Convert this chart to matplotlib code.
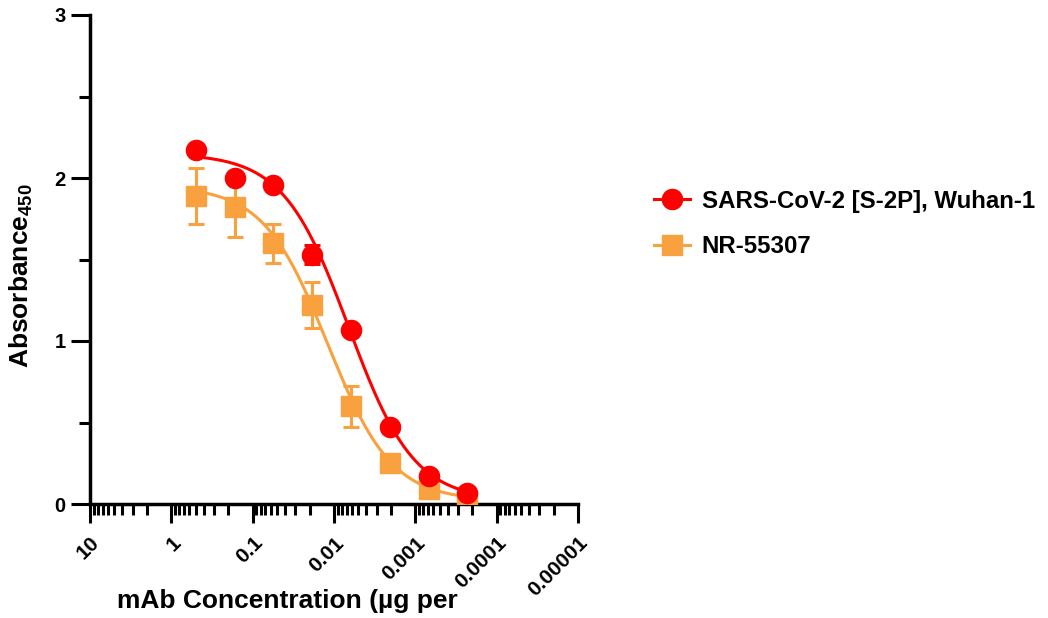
import numpy as np
import matplotlib
matplotlib.use("Agg")
import matplotlib.pyplot as plt
from matplotlib.ticker import LogLocator, NullFormatter, MultipleLocator

plt.rcParams['font.family'] = ['Liberation Sans', 'DejaVu Sans']
plt.rcParams['font.weight'] = 'bold'
plt.rcParams['mathtext.fontset'] = 'custom'
plt.rcParams['mathtext.rm'] = 'Liberation Sans:bold'
plt.rcParams['mathtext.bf'] = 'Liberation Sans:bold'

# mAb concentration (ug per mL), 3-fold dilutions
conc = [0.5, 0.1667, 0.05556, 0.01852, 0.006173, 0.002058, 0.000686, 0.0002286]

# SARS-CoV-2 [S-2P], Wuhan-1
wuhan = [2.17, 2.00, 1.96, 1.53, 1.07, 0.47, 0.17, 0.07]
wuhan_err = [0.02, 0.02, 0.02, 0.06, 0.02, 0.02, 0.01, 0.01]

# NR-55307
nr = [1.89, 1.82, 1.60, 1.22, 0.60, 0.25, 0.09, 0.02]
nr_err = [0.17, 0.18, 0.12, 0.14, 0.125, 0.03, 0.02, 0.01]

# 4PL fit parameters (top, bottom, EC50, hill)
wuhan_fit = [2.15, 0.02, 0.0066, 1.08]
nr_fit = [1.95, 0.02, 0.012, 1.1]

labels = ["SARS-CoV-2 [S-2P], Wuhan-1", "NR-55307"]
xtick_vals = [10, 1, 0.1, 0.01, 0.001, 0.0001, 0.00001]
xtick_labels = ["10", "1", "0.1", "0.01", "0.001", "0.0001", "0.00001"]

red = "#FF0000"
orange = "#F9A03F"


def four_pl(x, p):
    top, bottom, ec50, h = p
    return bottom + (top - bottom) / (1 + (ec50 / x) ** h)


fig = plt.figure(figsize=(10.48, 6.18), dpi=100)
ax = fig.add_axes([90 / 1048, 1 - 504 / 618, 488 / 1048, 489 / 618])

xs = np.logspace(np.log10(min(conc)), np.log10(max(conc)), 200)

# orange first, red on top
ax.plot(xs, four_pl(xs, nr_fit), color=orange, lw=2.2, zorder=2)
ax.errorbar(conc, nr, yerr=nr_err, fmt='s', color=orange, ms=15,
            elinewidth=2.2, capsize=6, capthick=2.2, zorder=3)
ax.plot(xs, four_pl(xs, wuhan_fit), color=red, lw=2.2, zorder=4)
ax.errorbar(conc, wuhan, yerr=wuhan_err, fmt='o', color=red, ms=14.5,
            elinewidth=2.2, capsize=6, capthick=2.2, zorder=5)

# legend handles
h1, = ax.plot([], [], color=red, marker='o', ms=14.5, lw=2.2)
h2, = ax.plot([], [], color=orange, marker='s', ms=15, lw=2.2)
fig.legend([h1, h2], labels, loc='upper left', bbox_to_anchor=(632 / 1048, 1 - 168 / 618),
           frameon=False, handlelength=1.5, handletextpad=0.5,
           labelspacing=0.95, prop={'weight': 'bold', 'size': 17.3})

ax.set_xscale('log')
ax.set_xlim(10, 0.00001)
ax.set_ylim(0, 3)

ax.set_xticks(xtick_vals)
ax.set_xticklabels(xtick_labels, rotation=45, ha='right', va='top',
                   rotation_mode='anchor', fontsize=15, fontweight='bold')
ax.xaxis.set_minor_locator(LogLocator(base=10, subs=np.arange(2, 10), numticks=20))
ax.xaxis.set_minor_formatter(NullFormatter())

ax.yaxis.set_major_locator(MultipleLocator(1))
ax.yaxis.set_minor_locator(MultipleLocator(0.5))
ax.tick_params(axis='y', labelsize=14.5)
for t in ax.get_yticklabels():
    t.set_fontweight('bold')

ax.tick_params(which='major', length=14, width=2.2, direction='out')
ax.tick_params(which='minor', length=8, width=2.2, direction='out')
ax.tick_params(axis='x', which='major', pad=7)

for s in ['top', 'right']:
    ax.spines[s].set_visible(False)
for s in ['left', 'bottom']:
    ax.spines[s].set_linewidth(2.5)

ax.set_ylabel(r'Absorbance$_{450}$', fontsize=19, fontweight='bold')
ax.yaxis.set_label_coords(-0.113, 0.466)
ax.set_xlabel(u'mAb Concentration (\u00b5g per', fontsize=19, fontweight='bold')
ax.xaxis.set_label_coords(0.404, -0.174)

fig.savefig("out.png", dpi=100)
